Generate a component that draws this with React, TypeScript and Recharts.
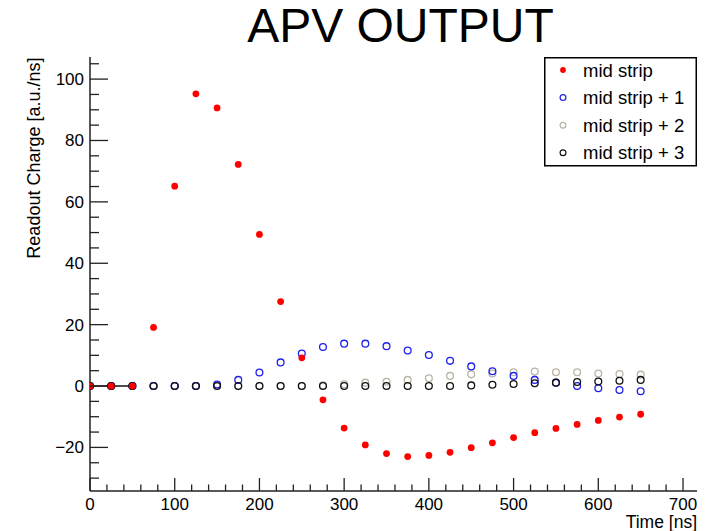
import React from 'react';
import { ScatterChart, Scatter, XAxis, YAxis, Legend, Label } from 'recharts';

// ---- data ----
const times = [0, 25, 50, 75, 100, 125, 150, 175, 200, 225, 250, 275, 300, 325, 350, 375, 400, 425, 450, 475, 500, 525, 550, 575, 600, 625, 650];
const midStrip = [0, 0, 0, 19.1, 65.1, 95.2, 90.6, 72.2, 49.4, 27.5, 9.2, -4.5, -13.7, -19.2, -22, -23, -22.6, -21.6, -20.1, -18.5, -16.8, -15.2, -13.8, -12.5, -11.2, -10.1, -9.2];
const midStripPlus1 = [0, 0, 0, 0, 0, 0, 0.5, 2, 4.4, 7.7, 10.6, 12.7, 13.8, 13.8, 13, 11.6, 10.1, 8.2, 6.4, 4.8, 3.3, 2, 1.1, 0, -0.7, -1.3, -1.7];
const midStripPlus2 = [0, 0, 0, 0, 0, 0, 0, 0, 0, 0, 0, 0.2, 0.6, 1.1, 1.4, 2, 2.5, 3.3, 3.8, 4.1, 4.5, 4.7, 4.5, 4.5, 4.1, 3.9, 3.7];
const midStripPlus3 = [0, 0, 0, 0, 0, 0, 0, 0, 0, 0, 0, 0, 0, 0, 0, 0, 0, 0, 0.2, 0.4, 0.65, 0.9, 1.1, 1.3, 1.5, 1.7, 2.0];
const baselineTimes = [0, 50];
const baselineValues = [0, 0];

const xTicks = [0, 20, 40, 60, 80, 100, 120, 140, 160, 180, 200, 220, 240, 260, 280, 300, 320, 340, 360, 380, 400, 420, 440, 460, 480, 500, 520, 540, 560, 580, 600, 620, 640, 660, 680, 700];
const yTicks = [-30, -25, -20, -15, -10, -5, 0, 5, 10, 15, 20, 25, 30, 35, 40, 45, 50, 55, 60, 65, 70, 75, 80, 85, 90, 95, 100, 105];
const xMajorTicks = [0, 100, 200, 300, 400, 500, 600, 700];
const yMajorTicks = [-20, 0, 20, 40, 60, 80, 100];

const titleText = 'APV OUTPUT';
const xTitle = 'Time [ns]';
const yTitle = 'Readout Charge [a.u./ns]';

const toPoints = (ts: number[], vs: number[]) => ts.map((t, i) => ({ t, v: vs[i] }));

const series = [
  { name: 'mid strip', values: midStrip, color: '#ff0000', filled: true },
  { name: 'mid strip + 1', values: midStripPlus1, color: '#1f1fee', filled: false },
  { name: 'mid strip + 2', values: midStripPlus2, color: '#bab4a4', filled: false },
  { name: 'mid strip + 3', values: midStripPlus3, color: '#111111', filled: false },
];
const drawOrder = ['mid strip + 2', 'mid strip + 1', 'mid strip + 3'];

const FONT = '"Liberation Sans", Arial, Helvetica, sans-serif';
const AXIS = '#222';

const fmt = (v: number) => (v < 0 ? '\u2212' + Math.abs(v) : String(v));

const XTick = (props: any) => {
  const { x, y, payload } = props;
  const v = payload.value;
  const major = xMajorTicks.includes(v);
  return (
    <g>
      <line x1={x} y1={y} x2={x} y2={y - (major ? 13 : 6.5)} stroke={AXIS} strokeWidth={1.3} />
      {major && (
        <text x={x} y={y + 19} textAnchor="middle" fontSize={17} fontFamily={FONT} fill="#000">
          {fmt(v)}
        </text>
      )}
    </g>
  );
};

const YTick = (props: any) => {
  const { x, y, payload } = props;
  const v = payload.value;
  const major = yMajorTicks.includes(v);
  return (
    <g>
      <line x1={x} y1={y} x2={x + (major ? 18 : 9)} y2={y} stroke={AXIS} strokeWidth={1.3} />
      {major && (
        <text x={x - 6} y={y + 6} textAnchor="end" fontSize={17} fontFamily={FONT} fill="#000">
          {fmt(v)}
        </text>
      )}
    </g>
  );
};

const filledDot = (color: string) => (p: any) => <circle cx={p.cx} cy={p.cy} r={3.4} fill={color} />;
const openDot = (color: string) => (p: any) => (
  <circle cx={p.cx} cy={p.cy} r={3.4} fill="none" stroke={color} strokeWidth={1.3} />
);
const noDot = () => <g />;

const LegendBox = () => (
  <svg width={153} height={110} style={{ display: 'block' }}>
    <rect x={0.75} y={0.75} width={151.5} height={108} fill="#fff" stroke="#000" strokeWidth={1.5} />
    {series.map((s, i) => {
      const cy = 13 + i * 27.6;
      return (
        <g key={s.name}>
          {s.filled ? (
            <circle cx={19} cy={cy} r={2.9} fill={s.color} />
          ) : (
            <circle cx={19} cy={cy} r={2.9} fill="none" stroke={s.color} strokeWidth={1.2} />
          )}
          <text x={39} y={cy + 6.5} fontSize={18.5} fontFamily={FONT} fill="#000">
            {s.name}
          </text>
        </g>
      );
    })}
  </svg>
);

const YTitle = (props: any) => {
  const vb = props.viewBox;
  const x = vb.x + 39.5;
  const y = vb.y + 0.5;
  return (
    <text x={x} y={y} transform={`rotate(-90, ${x}, ${y})`} textAnchor="end" fontSize={18} fontFamily={FONT} fill="#000">
      {yTitle}
    </text>
  );
};

const XTitle = (props: any) => {
  const vb = props.viewBox;
  return (
    <text x={vb.x + vb.width} y={vb.y + 37} textAnchor="end" fontSize={17.5} fontFamily={FONT} fill="#000">
      {xTitle}
    </text>
  );
};

export default function App() {
  const byName = (n: string) => series.find((s) => s.name === n)!;
  const red = series[0];
  return (
    <div style={{ position: 'absolute', left: 0, top: 0, width: 713, height: 531, background: '#fff', fontFamily: FONT }}>
      <div
        style={{
          position: 'absolute',
          left: 200,
          top: 2,
          width: 401,
          textAlign: 'center',
          fontSize: 48,
          lineHeight: '47px',
          fontFamily: FONT,
          color: '#000',
          zIndex: 2,
        }}
      >
        {titleText}
      </div>
      <ScatterChart width={713} height={531} margin={{ top: 57, right: 16, left: 0, bottom: 0 }}>
        <XAxis
          xAxisId="main"
          type="number"
          dataKey="t"
          domain={[0, 716.5]}
          allowDataOverflow
          ticks={xTicks}
          interval={0}
          tick={<XTick />}
          tickLine={false}
          tickSize={0}
          tickMargin={0}
          height={40}
          axisLine={{ stroke: AXIS, strokeWidth: 1.5 }}
        >
          <Label content={<XTitle />} />
        </XAxis>
        <YAxis
          yAxisId="main"
          type="number"
          dataKey="v"
          domain={[-34.2, 107.2]}
          allowDataOverflow
          ticks={yTicks}
          interval={0}
          tick={<YTick />}
          tickLine={false}
          tickSize={0}
          tickMargin={0}
          width={90}
          axisLine={{ stroke: AXIS, strokeWidth: 1.5 }}
        >
          <Label content={<YTitle />} />
        </YAxis>
        <XAxis
          xAxisId="frameTop"
          orientation="top"
          type="number"
          domain={[0, 1]}
          height={0}
          tick={false}
          tickLine={false}
          axisLine={{ stroke: AXIS, strokeWidth: 1.5 }}
        />
        <YAxis
          yAxisId="frameRight"
          orientation="right"
          type="number"
          domain={[0, 1]}
          width={0}
          tick={false}
          tickLine={false}
          axisLine={{ stroke: AXIS, strokeWidth: 1.5 }}
        />
        {drawOrder.map((n) => {
          const s = byName(n);
          return (
            <Scatter
              key={n}
              xAxisId="main"
              yAxisId="main"
              name={s.name}
              data={toPoints(times, s.values)}
              fill={s.color}
              shape={openDot(s.color)}
              isAnimationActive={false}
            />
          );
        })}
        <Scatter
          xAxisId="main"
          yAxisId="main"
          name="baseline"
          legendType="none"
          data={toPoints(baselineTimes, baselineValues)}
          line={{ stroke: '#111', strokeWidth: 1.5 }}
          shape={noDot}
          isAnimationActive={false}
        />
        <Scatter
          xAxisId="main"
          yAxisId="main"
          name={red.name}
          data={toPoints(times, red.values)}
          fill={red.color}
          shape={filledDot(red.color)}
          isAnimationActive={false}
        />
        <Legend
          layout="vertical"
          align="center"
          verticalAlign="middle"
          wrapperStyle={{ left: 544, top: 57, width: 153, height: 110, margin: 0, padding: 0 }}
          content={<LegendBox />}
        />
      </ScatterChart>
    </div>
  );
}
